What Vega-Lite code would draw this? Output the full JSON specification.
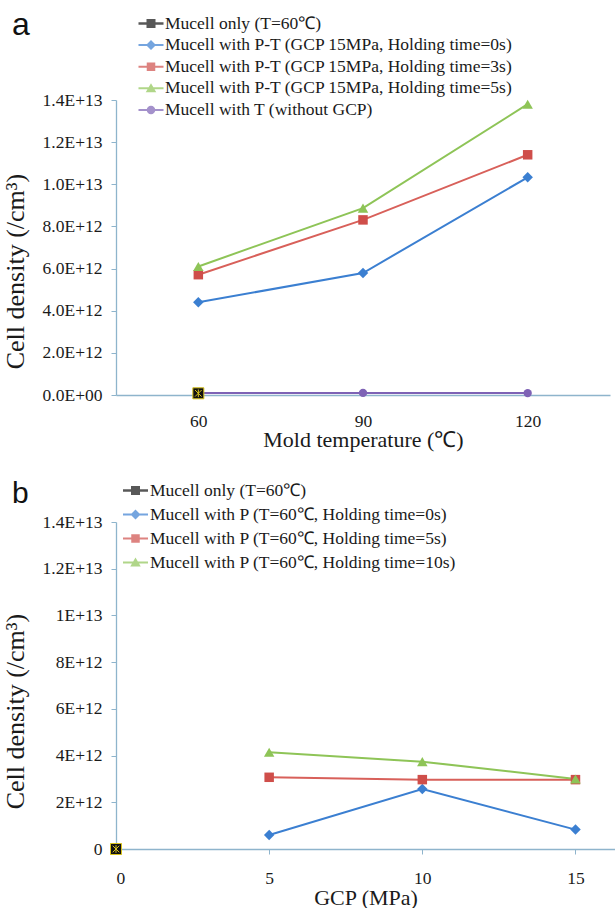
{
  "$schema": "https://vega.github.io/schema/vega-lite/v6.json",
  "autosize": {"type": "pad"},
  "padding": {"left": 2, "top": 9, "right": 0, "bottom": 0},
  "background": "#ffffff",
  "spacing": 127,
  "bounds": "flush",
  "resolve": {
    "scale": {"color": "independent", "shape": "independent", "stroke": "independent"},
    "legend": {"color": "independent", "shape": "independent"}
  },
  "config": {
    "view": {"stroke": null},
    "font": "Liberation Serif",
    "axis": {
      "grid": false,
      "domainColor": "#8eb4cc",
      "tickColor": "#8eb4cc",
      "domainWidth": 1.3,
      "labelFont": "Liberation Serif",
      "labelFontSize": 17.5,
      "labelColor": "#1a1a1a",
      "titleFont": "Liberation Serif",
      "titleFontWeight": "normal",
      "titleColor": "#1a1a1a"
    },
    "legend": {
      "labelFont": "Liberation Serif",
      "labelFontSize": 17.5,
      "labelColor": "#1a1a1a",
      "labelLimit": 600
    }
  },
  "datasets": {
    "a": [
      {"series": "Mucell only (T=60℃)", "temp": 60, "density": 8e10},
      {"series": "Mucell with P-T (GCP 15MPa, Holding time=0s)", "temp": 60, "density": 4.40e12},
      {"series": "Mucell with P-T (GCP 15MPa, Holding time=0s)", "temp": 90, "density": 5.79e12},
      {"series": "Mucell with P-T (GCP 15MPa, Holding time=0s)", "temp": 120, "density": 1.033e13},
      {"series": "Mucell with P-T (GCP 15MPa, Holding time=3s)", "temp": 60, "density": 5.71e12},
      {"series": "Mucell with P-T (GCP 15MPa, Holding time=3s)", "temp": 90, "density": 8.31e12},
      {"series": "Mucell with P-T (GCP 15MPa, Holding time=3s)", "temp": 120, "density": 1.14e13},
      {"series": "Mucell with P-T (GCP 15MPa, Holding time=5s)", "temp": 60, "density": 6.1e12},
      {"series": "Mucell with P-T (GCP 15MPa, Holding time=5s)", "temp": 90, "density": 8.87e12},
      {"series": "Mucell with P-T (GCP 15MPa, Holding time=5s)", "temp": 120, "density": 1.38e13},
      {"series": "Mucell with T (without GCP)", "temp": 60, "density": 1.0e11},
      {"series": "Mucell with T (without GCP)", "temp": 90, "density": 1.0e11},
      {"series": "Mucell with T (without GCP)", "temp": 120, "density": 9e10}
    ],
    "b": [
      {"series": "Mucell only (T=60℃)", "gcp": 0, "density": 0},
      {"series": "Mucell with P (T=60℃, Holding time=0s)", "gcp": 5, "density": 6.0e11},
      {"series": "Mucell with P (T=60℃, Holding time=0s)", "gcp": 10, "density": 2.57e12},
      {"series": "Mucell with P (T=60℃, Holding time=0s)", "gcp": 15, "density": 8.3e11},
      {"series": "Mucell with P (T=60℃, Holding time=5s)", "gcp": 5, "density": 3.07e12},
      {"series": "Mucell with P (T=60℃, Holding time=5s)", "gcp": 10, "density": 2.97e12},
      {"series": "Mucell with P (T=60℃, Holding time=5s)", "gcp": 15, "density": 2.97e12},
      {"series": "Mucell with P (T=60℃, Holding time=10s)", "gcp": 5, "density": 4.14e12},
      {"series": "Mucell with P (T=60℃, Holding time=10s)", "gcp": 10, "density": 3.74e12},
      {"series": "Mucell with P (T=60℃, Holding time=10s)", "gcp": 15, "density": 3.0e12}
    ]
  },
  "vconcat": [
    {
      "width": 494,
      "height": 295,
      "data": {"name": "a"},
      "title": {"text": "a", "anchor": "start", "frame": "group", "font": "Liberation Sans", "fontSize": 32, "fontWeight": "normal", "color": "#111111", "dx": -104, "dy": 31, "offset": 0},
      "encoding": {
        "x": {"field": "temp", "type": "quantitative", "scale": {"domain": [45, 135], "nice": false, "zero": false},
          "axis": {"values": [60, 90, 120], "ticks": false, "labelPadding": 17, "title": "Mold temperature (℃)", "titleFontSize": 22, "titlePadding": 0}},
        "y": {"field": "density", "type": "quantitative", "scale": {"domain": [0, 1.4e13], "nice": false},
          "axis": {"values": [0, 2e12, 4e12, 6e12, 8e12, 1e13, 1.2e13, 1.4e13], "labelExpr": "replace(upper(format(datum.value, '.1e')), 'E+0', 'E+00')", "tickSize": 5, "labelPadding": 9, "title": "Cell density (/cm³)", "titleFontSize": 26, "titleX": -88, "titleY": 171}}
      },
      "layer": [
        {"mark": {"type": "line", "strokeWidth": 2},
          "encoding": {"stroke": {"field": "series", "type": "nominal", "legend": null,
            "scale": {"range": ["#111111", "#3b7fd1", "#d8605a", "#8ec457", "#7e62b5"]}}}},
        {"transform": [{"filter": {"field": "series", "equal": "Mucell with T (without GCP)"}}],
          "mark": {"type": "point", "shape": "circle", "filled": true, "size": 70, "color": "#7e62b5", "opacity": 1}},
        {"transform": [{"filter": {"field": "series", "equal": "Mucell with P-T (GCP 15MPa, Holding time=0s)"}}],
          "mark": {"type": "point", "shape": "diamond", "filled": true, "size": 110, "color": "#3b7fd1", "opacity": 1}},
        {"transform": [{"filter": {"field": "series", "equal": "Mucell with P-T (GCP 15MPa, Holding time=3s)"}}],
          "mark": {"type": "point", "shape": "square", "filled": true, "size": 90, "color": "#cf4e4a", "opacity": 1}},
        {"transform": [{"filter": {"field": "series", "equal": "Mucell with P-T (GCP 15MPa, Holding time=5s)"}}],
          "mark": {"type": "point", "shape": "triangle-up", "filled": true, "size": 110, "color": "#8ec457", "opacity": 1}},
        {"transform": [{"filter": {"field": "series", "equal": "Mucell only (T=60℃)"}}],
          "mark": {"type": "point", "shape": "M-1,-1H1V1H-1Z M-0.6,-0.6L0.6,0.6 M0.6,-0.6L-0.6,0.6 M0,-0.7V0.7", "filled": true, "size": 121, "fill": "#111111", "stroke": "#d8c21a", "strokeWidth": 1, "opacity": 1}},
        {"transform": [{"filter": "datum.temp > 1000"}],
          "mark": {"type": "point", "filled": true},
          "encoding": {
            "color": {"field": "series", "type": "nominal",
              "scale": {"domain": ["Mucell only (T=60℃)", "Mucell with P-T (GCP 15MPa, Holding time=0s)", "Mucell with P-T (GCP 15MPa, Holding time=3s)", "Mucell with P-T (GCP 15MPa, Holding time=5s)", "Mucell with T (without GCP)"],
                "range": ["#111111", "#3b7fd1", "#cf4e4a", "#8ec457", "#7e62b5"]},
              "legend": {"orient": "none", "legendX": 22.5, "legendY": -89, "title": null, "padding": 0, "symbolSize": 625, "symbolStrokeWidth": 0, "rowPadding": 0.6, "labelOffset": 1.5, "labelFont": "Liberation Serif", "labelFontSize": 17.5, "labelColor": "#1a1a1a",
                "encode": {"labels": {"update": {"font": {"value": "Liberation Serif"}, "fontSize": {"value": 17.5}}}}}},
            "shape": {"field": "series", "type": "nominal",
              "scale": {"domain": ["Mucell only (T=60℃)", "Mucell with P-T (GCP 15MPa, Holding time=0s)", "Mucell with P-T (GCP 15MPa, Holding time=3s)", "Mucell with P-T (GCP 15MPa, Holding time=5s)", "Mucell with T (without GCP)"],
                "range": [
                  "M-1,-0.1H1V0.1H-1Z M-0.36,-0.36H0.36V0.36H-0.36Z",
                  "M-1,-0.08H1V0.08H-1Z M0,-0.4L0.4,0L0,0.4L-0.4,0Z",
                  "M-1,-0.08H1V0.08H-1Z M-0.34,-0.34H0.34V0.34H-0.34Z",
                  "M-1,-0.08H1V0.08H-1Z M0,-0.4L0.42,0.32H-0.42Z",
                  "M-1,-0.08H1V0.08H-1Z M0.34,0A0.34,0.34,0,1,1,-0.34,0A0.34,0.34,0,1,1,0.34,0Z"
                ]},
              "legend": {"orient": "none", "legendX": 22.5, "legendY": -89, "title": null, "padding": 0, "symbolSize": 625, "symbolStrokeWidth": 0, "rowPadding": 0.6, "labelOffset": 1.5, "labelFont": "Liberation Serif", "labelFontSize": 17.5, "labelColor": "#1a1a1a",
                "encode": {"labels": {"update": {"font": {"value": "Liberation Serif"}, "fontSize": {"value": 17.5}}}}}}
          }}
      ]
    },
    {
      "width": 499,
      "height": 327,
      "data": {"name": "b"},
      "title": {"text": "b", "anchor": "start", "frame": "group", "font": "Liberation Sans", "fontSize": 30, "fontWeight": "normal", "color": "#111111", "dx": -104, "dy": 31, "offset": 0},
      "encoding": {
        "x": {"field": "gcp", "type": "quantitative", "scale": {"domain": [0, 16.29], "nice": false, "zero": false},
          "axis": {"values": [0, 5, 10, 15], "tickSize": 5, "labelPadding": 15.5, "title": "GCP (MPa)", "titleFontSize": 22, "titlePadding": 0}},
        "y": {"field": "density", "type": "quantitative", "scale": {"domain": [0, 1.4e13], "nice": false},
          "axis": {"values": [0, 2e12, 4e12, 6e12, 8e12, 1e13, 1.2e13, 1.4e13], "labelExpr": "datum.value == 0 ? '0' : upper(format(datum.value, '.2~e'))", "tickSize": 5, "labelPadding": 9, "title": "Cell density (/cm³)", "titleFontSize": 26, "titleX": -88, "titleY": 189}}
      },
      "layer": [
        {"mark": {"type": "line", "strokeWidth": 2},
          "encoding": {"stroke": {"field": "series", "type": "nominal", "legend": null,
            "scale": {"range": ["#111111", "#3b7fd1", "#8ec457", "#d8605a"]}}}},
        {"transform": [{"filter": {"field": "series", "equal": "Mucell with P (T=60℃, Holding time=0s)"}}],
          "mark": {"type": "point", "shape": "diamond", "filled": true, "size": 110, "color": "#3b7fd1", "opacity": 1}},
        {"transform": [{"filter": {"field": "series", "equal": "Mucell with P (T=60℃, Holding time=5s)"}}],
          "mark": {"type": "point", "shape": "square", "filled": true, "size": 90, "color": "#cf4e4a", "opacity": 1}},
        {"transform": [{"filter": {"field": "series", "equal": "Mucell with P (T=60℃, Holding time=10s)"}}],
          "mark": {"type": "point", "shape": "triangle-up", "filled": true, "size": 110, "color": "#8ec457", "opacity": 1}},
        {"transform": [{"filter": {"field": "series", "equal": "Mucell only (T=60℃)"}}],
          "mark": {"type": "point", "shape": "M-1,-1H1V1H-1Z M-0.6,-0.6L0.6,0.6 M0.6,-0.6L-0.6,0.6 M0,-0.7V0.7", "filled": true, "size": 121, "fill": "#111111", "stroke": "#d8c21a", "strokeWidth": 1, "opacity": 1}},
        {"transform": [{"filter": "datum.gcp > 1000"}],
          "mark": {"type": "point", "filled": true},
          "encoding": {
            "color": {"field": "series", "type": "nominal",
              "scale": {"domain": ["Mucell only (T=60℃)", "Mucell with P (T=60℃, Holding time=0s)", "Mucell with P (T=60℃, Holding time=5s)", "Mucell with P (T=60℃, Holding time=10s)"],
                "range": ["#111111", "#3b7fd1", "#cf4e4a", "#8ec457"]},
              "legend": {"orient": "none", "legendX": 7, "legendY": -44, "title": null, "padding": 0, "symbolSize": 625, "symbolStrokeWidth": 0, "rowPadding": 3, "labelOffset": 2, "labelFont": "Liberation Serif", "labelFontSize": 17.5, "labelColor": "#1a1a1a",
                "encode": {"labels": {"update": {"font": {"value": "Liberation Serif"}, "fontSize": {"value": 17.5}}}}}},
            "shape": {"field": "series", "type": "nominal",
              "scale": {"domain": ["Mucell only (T=60℃)", "Mucell with P (T=60℃, Holding time=0s)", "Mucell with P (T=60℃, Holding time=5s)", "Mucell with P (T=60℃, Holding time=10s)"],
                "range": [
                  "M-1,-0.1H1V0.1H-1Z M-0.36,-0.36H0.36V0.36H-0.36Z",
                  "M-1,-0.08H1V0.08H-1Z M0,-0.4L0.4,0L0,0.4L-0.4,0Z",
                  "M-1,-0.08H1V0.08H-1Z M-0.34,-0.34H0.34V0.34H-0.34Z",
                  "M-1,-0.08H1V0.08H-1Z M0,-0.4L0.42,0.32H-0.42Z"
                ]},
              "legend": {"orient": "none", "legendX": 7, "legendY": -44, "title": null, "padding": 0, "symbolSize": 625, "symbolStrokeWidth": 0, "rowPadding": 3, "labelOffset": 2, "labelFont": "Liberation Serif", "labelFontSize": 17.5, "labelColor": "#1a1a1a",
                "encode": {"labels": {"update": {"font": {"value": "Liberation Serif"}, "fontSize": {"value": 17.5}}}}}}
          }}
      ]
    }
  ]
}
